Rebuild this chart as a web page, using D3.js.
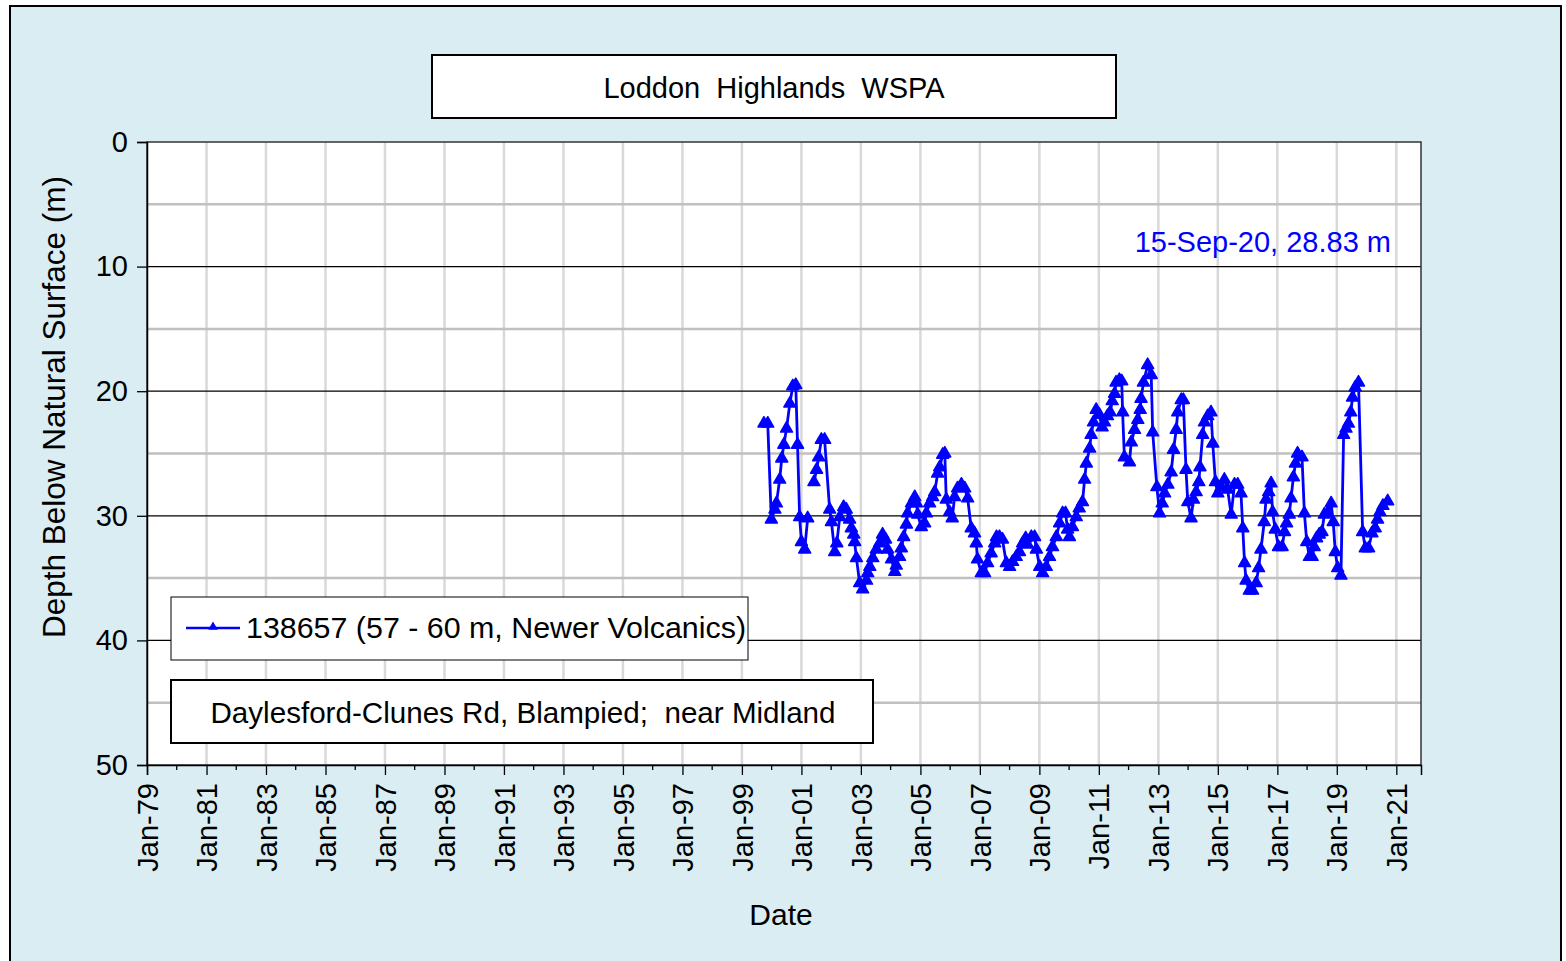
<!DOCTYPE html>
<html lang="en">
<head>
  <meta charset="UTF-8">
  <title>Loddon Highlands WSPA - bore 138657</title>
  <script src="https://d3js.org/d3.v7.min.js"></script>
  <style>
    * { margin: 0; padding: 0; }
    body { background: #ffffff; }
    svg { display: block; font-family: "Liberation Sans", Arial, sans-serif; }
  </style>
</head>
<body>
  <div id="chart"></div>
  <script>
    // observation dates (decimal years) and depth below natural surface (m)
    // null depth = gap in the record
    var obsYears = [
      1999.74, 1999.87, 1999.99, 2000.11, 2000.16, 2000.27, 2000.34, 2000.41, 2000.50, 2000.61,
      2000.71, 2000.81, 2000.87, 2000.94, 2001.00, 2001.11, 2001.21, 2001.31, 2001.42, 2001.51,
      2001.58, 2001.67, 2001.78, 2001.95, 2002.01, 2002.12, 2002.19, 2002.29, 2002.42, 2002.51,
      2002.62, 2002.68, 2002.76, 2002.79, 2002.85, 2002.96, 2003.06, 2003.19, 2003.23, 2003.30,
      2003.40, 2003.52, 2003.63, 2003.73, 2003.83, 2003.90, 2004.03, 2004.14, 2004.19, 2004.30,
      2004.36, 2004.44, 2004.53, 2004.57, 2004.70, 2004.81, 2004.87, 2004.91, 2005.03, 2005.14,
      2005.20, 2005.31, 2005.41, 2005.48, 2005.58, 2005.65, 2005.75, 2005.82, 2005.87, 2005.98,
      2006.07, 2006.15, 2006.25, 2006.38, 2006.49, 2006.59, 2006.71, 2006.82, 2006.88, 2006.92,
      2007.05, 2007.16, 2007.26, 2007.38, 2007.50, 2007.56, 2007.66, 2007.76, 2007.89, 2008.00,
      2008.10, 2008.22, 2008.33, 2008.44, 2008.54, 2008.60, 2008.73, 2008.84, 2008.90, 2009.01,
      2009.11, 2009.23, 2009.34, 2009.44, 2009.57, 2009.68, 2009.78, 2009.88, 2009.95, 2010.01,
      2010.11, 2010.24, 2010.34, 2010.45, 2010.52, 2010.58, 2010.69, 2010.74, 2010.82, 2010.91,
      2011.02, 2011.11, 2011.19, 2011.29, 2011.38, 2011.45, 2011.53, 2011.58, 2011.69, 2011.77,
      2011.80, 2011.86, 2012.03, 2012.09, 2012.20, 2012.31, 2012.39, 2012.42, 2012.50, 2012.64,
      2012.76, 2012.81, 2012.95, 2013.04, 2013.13, 2013.21, 2013.32, 2013.43, 2013.51, 2013.60,
      2013.65, 2013.77, 2013.84, 2013.93, 2013.99, 2014.10, 2014.18, 2014.27, 2014.36, 2014.40,
      2014.49, 2014.55, 2014.66, 2014.77, 2014.83, 2014.92, 2015.00, 2015.11, 2015.22, 2015.33,
      2015.45, 2015.56, 2015.67, 2015.78, 2015.84, 2015.90, 2015.95, 2016.06, 2016.17, 2016.29,
      2016.37, 2016.45, 2016.56, 2016.62, 2016.71, 2016.79, 2016.84, 2016.93, 2017.04, 2017.16,
      2017.24, 2017.31, 2017.40, 2017.46, 2017.54, 2017.61, 2017.68, 2017.83, 2017.91, 2017.99,
      2018.08, 2018.17, 2018.24, 2018.32, 2018.41, 2018.50, 2018.58, 2018.69, 2018.81, 2018.88,
      2018.95, 2019.03, 2019.14, 2019.23, 2019.31, 2019.39, 2019.47, 2019.53, 2019.62, 2019.73,
      2019.87, 2019.96, 2020.07, 2020.18, 2020.29, 2020.37, 2020.45, 2020.55, 2020.71
    ];
    var depthM = [
      22.6, 22.6, 30.3, 29.5, 29.0, 27.1, 25.4, 24.3, 23.0, 21.0,
      19.6, 19.5, 24.3, 30.1, 32.1, 32.7, 30.2, null, 27.3, 26.3,
      25.3, 23.9, 23.9, 29.5, 30.5, 32.9, 32.2, 30.1, 29.3, 29.5,
      30.3, 31.0, 31.5, 32.1, 33.4, 35.4, 35.9, 35.2, 34.6, 34.1,
      33.4, 32.7, 32.2, 31.5, 31.9, 32.7, 33.5, 34.5, 34.0, 33.3,
      32.6, 31.7, 30.7, 29.8, 29.0, 28.5, 29.0, 29.9, 30.9, 30.6,
      29.8, 29.0, 28.5, 28.1, 26.6, 26.1, 25.1, 25.0, 28.7, 29.7,
      30.2, 28.5, 27.8, 27.5, 27.8, 28.6, 31.0, 31.4, 32.2, 33.5,
      34.6, 34.6, 33.8, 33.0, 32.2, 31.7, 31.7, 31.9, 33.8, 34.1,
      33.7, 33.3, 32.9, 32.2, 31.8, 32.3, 31.7, 31.7, 32.7, 34.1,
      34.6, 34.1, 33.3, 32.5, 31.7, 30.6, 29.8, 29.8, 31.1, 31.7,
      30.9, 30.1, 29.4, 28.9, 27.1, 25.8, 24.6, 23.5, 22.5, 21.5,
      21.9, 22.9, 22.5, 22.0, 21.7, 20.8, 20.2, 19.3, 19.1, 19.2,
      21.7, 25.3, 25.7, 24.1, 23.1, 22.3, 21.5, 20.6, 19.3, 17.9,
      18.7, 23.3, 27.7, 29.8, 29.0, 28.2, 27.5, 26.5, 24.7, 23.1,
      21.7, 20.7, 20.7, 26.3, 28.9, 30.2, 28.7, 28.1, 27.3, 26.1,
      23.5, 22.5, 22.0, 21.7, 24.2, 27.3, 28.2, 27.7, 27.1, 27.9,
      29.9, 27.5, 27.5, 28.2, 31.0, 33.8, 35.2, 36.0, 36.0, 35.4,
      34.2, 32.7, 30.5, 28.7, 28.1, 27.4, 29.7, 31.1, 32.5, 32.5,
      31.3, 30.6, 29.9, 28.6, 26.9, 25.8, 25.0, 25.3, 29.8, 32.1,
      33.3, 33.3, 32.5, 31.8, 31.5, 31.3, 29.9, 29.8, 29.0, 30.5,
      32.9, 34.2, 34.8, 23.5, 23.0, 22.6, 21.7, 20.5, 19.7, 19.3,
      31.3, 32.6, 32.6, 31.4, 31.0, 30.3, 29.7, 29.2, 28.83
    ];

    var tickYears = d3.range(1979, 2022, 2);   // labelled ticks Jan-79 ... Jan-21
    var minorYears = d3.range(1980, 2022, 2);
    var depthTicks = [0, 10, 20, 30, 40, 50];
    var depthMinor = [5, 15, 25, 35, 45];

    var titleText = 'Loddon  Highlands  WSPA';
    var seriesName = '138657 (57 - 60 m, Newer Volcanics)';
    var locationText = 'Daylesford-Clunes Rd, Blampied;  near Midland';
    var lastLabel = '15-Sep-20, 28.83 m';

    var width = 1566, height = 961;
    var plot = { left: 147, top: 142, right: 1421, bottom: 765 };
    var blue = '#0000ff';
    var fs = 29;

    function yearToDate(y) {
      var yr = Math.floor(y);
      var start = new Date(yr, 0, 1), end = new Date(yr + 1, 0, 1);
      return new Date(start.getTime() + (y - yr) * (end - start));
    }

    var data = obsYears.map(function (y, i) {
      return { date: yearToDate(y), depth: depthM[i] };
    });

    var svg = d3.select('#chart').append('svg')
      .attr('width', width)
      .attr('height', height);

    // outer panel
    svg.append('rect')
      .attr('x', 10).attr('y', 6)
      .attr('width', 1551).attr('height', 970)
      .attr('fill', '#daedf3')
      .attr('stroke', '#000').attr('stroke-width', 2);

    var xScale = d3.scaleTime()
      .domain([new Date(1979, 0, 1), new Date(2021, 9, 31)])
      .range([plot.left, plot.right]);
    var yScale = d3.scaleLinear()
      .domain([0, 50])
      .range([plot.top, plot.bottom]);

    // plot area
    svg.append('rect')
      .attr('x', plot.left).attr('y', plot.top)
      .attr('width', plot.right - plot.left).attr('height', plot.bottom - plot.top)
      .attr('fill', '#fff');

    // grid
    svg.append('g').selectAll('line')
      .data(tickYears.slice(1))
      .enter().append('line')
      .attr('x1', function (d) { return xScale(new Date(d, 0, 1)); })
      .attr('x2', function (d) { return xScale(new Date(d, 0, 1)); })
      .attr('y1', plot.top).attr('y2', plot.bottom)
      .attr('stroke', '#d9d9d9').attr('stroke-width', 2.5);

    svg.append('g').selectAll('line')
      .data(depthMinor)
      .enter().append('line')
      .attr('x1', plot.left).attr('x2', plot.right)
      .attr('y1', function (d) { return yScale(d); })
      .attr('y2', function (d) { return yScale(d); })
      .attr('stroke', '#c0c0c0').attr('stroke-width', 2.5);

    svg.append('g').selectAll('line')
      .data([10, 20, 30, 40])
      .enter().append('line')
      .attr('x1', plot.left).attr('x2', plot.right)
      .attr('y1', function (d) { return yScale(d); })
      .attr('y2', function (d) { return yScale(d); })
      .attr('stroke', '#000').attr('stroke-width', 1.3);

    // plot border
    svg.append('rect')
      .attr('x', plot.left).attr('y', plot.top)
      .attr('width', plot.right - plot.left).attr('height', plot.bottom - plot.top)
      .attr('fill', 'none')
      .attr('stroke', '#333').attr('stroke-width', 1.5);

    // axes
    var yAxis = d3.axisLeft(yScale)
      .tickValues(depthTicks)
      .tickSize(10)
      .tickPadding(9)
      .tickFormat(d3.format('d'));
    var gy = svg.append('g')
      .attr('transform', 'translate(' + plot.left + ',0)')
      .call(yAxis);
    gy.select('.domain').attr('stroke', '#000').attr('stroke-width', 1.5);
    gy.selectAll('.tick line').attr('stroke', '#000').attr('stroke-width', 1.3);
    gy.selectAll('.tick text')
      .attr('font-size', fs)
      .attr('font-family', '"Liberation Sans", Arial, sans-serif')
      .attr('fill', '#000');

    var xAxis = d3.axisBottom(xScale)
      .tickValues(tickYears.map(function (y) { return new Date(y, 0, 1); }))
      .tickSize(10)
      .tickFormat(d3.timeFormat('%b-%y'));
    var gx = svg.append('g')
      .attr('transform', 'translate(0,' + plot.bottom + ')')
      .call(xAxis);
    gx.select('.domain').attr('stroke', '#000').attr('stroke-width', 1.5);
    gx.selectAll('.tick line').attr('stroke', '#000').attr('stroke-width', 1.3);
    gx.selectAll('.tick text')
      .attr('font-size', fs)
      .attr('font-family', '"Liberation Sans", Arial, sans-serif')
      .attr('fill', '#000')
      .attr('text-anchor', 'end')
      .attr('transform', 'rotate(-90)')
      .attr('x', -18)
      .attr('y', 0)
      .attr('dy', '0.35em');

    gx.selectAll('.minor')
      .data(minorYears)
      .enter().append('line')
      .attr('class', 'minor')
      .attr('x1', function (d) { return xScale(new Date(d, 0, 1)); })
      .attr('x2', function (d) { return xScale(new Date(d, 0, 1)); })
      .attr('y1', 0).attr('y2', 5)
      .attr('stroke', '#000').attr('stroke-width', 1.3);

    // axis titles
    svg.append('text')
      .attr('x', 781).attr('y', 925)
      .attr('text-anchor', 'middle')
      .attr('font-size', fs + 1)
      .text('Date');

    svg.append('text')
      .attr('transform', 'translate(65,407) rotate(-90)')
      .attr('text-anchor', 'middle')
      .attr('font-size', 31.5)
      .text('Depth Below Natural Surface (m)');

    // series
    var line = d3.line()
      .defined(function (d) { return d.depth !== null; })
      .x(function (d) { return xScale(d.date); })
      .y(function (d) { return yScale(d.depth); });

    svg.append('path')
      .datum(data)
      .attr('d', line)
      .attr('fill', 'none')
      .attr('stroke', blue)
      .attr('stroke-width', 2.8)
      .attr('stroke-linejoin', 'round');

    var tri = d3.symbol().type(d3.symbolTriangle).size(62);
    svg.append('g').selectAll('path')
      .data(data.filter(function (d) { return d.depth !== null; }))
      .enter().append('path')
      .attr('d', tri)
      .attr('transform', function (d) {
        return 'translate(' + xScale(d.date) + ',' + yScale(d.depth) + ')';
      })
      .attr('fill', blue)
      .attr('stroke', blue)
      .attr('stroke-width', 1.5)
      .attr('stroke-linejoin', 'round');

    // latest reading label
    svg.append('text')
      .attr('x', 1391).attr('y', 252)
      .attr('text-anchor', 'end')
      .attr('font-size', 29)
      .attr('fill', blue)
      .text(lastLabel);

    // title box
    svg.append('rect')
      .attr('x', 432).attr('y', 55)
      .attr('width', 684).attr('height', 63)
      .attr('fill', '#fff')
      .attr('stroke', '#000').attr('stroke-width', 2);
    svg.append('text')
      .attr('x', 774).attr('y', 98)
      .attr('text-anchor', 'middle')
      .attr('font-size', fs)
      .style('white-space', 'pre')
      .text(titleText);

    // legend
    svg.append('rect')
      .attr('x', 171).attr('y', 597)
      .attr('width', 577).attr('height', 63)
      .attr('fill', '#fff')
      .attr('stroke', '#000').attr('stroke-width', 1);
    svg.append('line')
      .attr('x1', 186).attr('x2', 240)
      .attr('y1', 628).attr('y2', 628)
      .attr('stroke', blue).attr('stroke-width', 2.5);
    svg.append('path')
      .attr('d', d3.symbol().type(d3.symbolTriangle).size(40))
      .attr('transform', 'translate(213,627)')
      .attr('fill', blue);
    svg.append('text')
      .attr('x', 246).attr('y', 638)
      .attr('font-size', 30.4)
      .text(seriesName);

    // location box
    svg.append('rect')
      .attr('x', 171).attr('y', 680)
      .attr('width', 702).attr('height', 63)
      .attr('fill', '#fff')
      .attr('stroke', '#000').attr('stroke-width', 2);
    svg.append('text')
      .attr('x', 523).attr('y', 723)
      .attr('text-anchor', 'middle')
      .attr('font-size', 29.6)
      .style('white-space', 'pre')
      .text(locationText);
  </script>
</body>
</html>
